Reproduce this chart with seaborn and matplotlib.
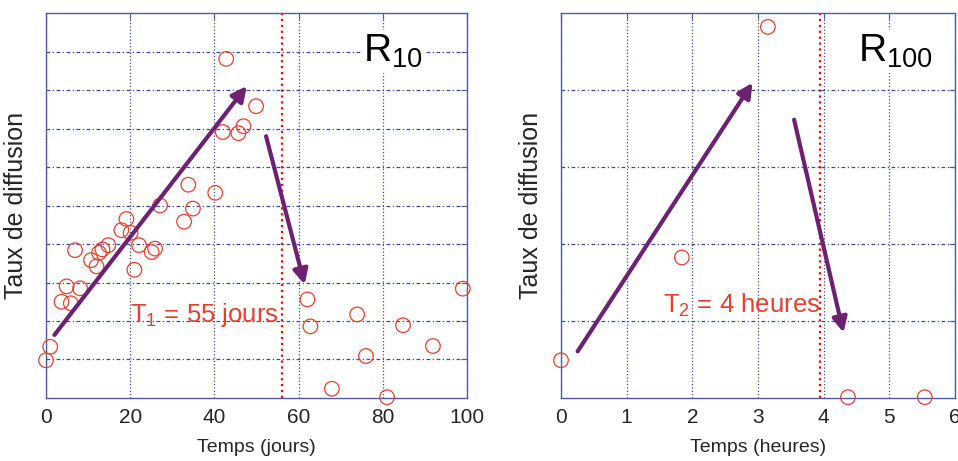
import numpy as np
import pandas as pd
import seaborn as sns
import matplotlib as mpl
import matplotlib.pyplot as plt

# --- data ---
jours = [0, 1.0, 3.7, 4.9, 5.9, 8.1, 6.9, 10.7, 12.0, 12.6, 13.4, 14.8, 17.9, 19.1, 20.1,
         21.0, 22.1, 25.1, 25.9, 27.1, 32.8, 33.8, 34.9, 40.2, 42.0, 42.8, 45.7, 46.9,
         49.9, 62.1, 62.8, 67.9, 73.9, 76.0, 81.0, 84.8, 91.9, 99.0]
taux_r10 = [0.98, 1.33, 2.50, 2.90, 2.46, 2.85, 3.84, 3.58, 3.42, 3.77, 3.86, 3.97, 4.36,
            4.65, 4.29, 3.33, 3.97, 3.79, 3.88, 5.00, 4.58, 5.54, 4.92, 5.33, 6.91, 8.81,
            6.88, 7.06, 7.58, 2.56, 1.86, 0.24, 2.17, 1.09, 0.02, 1.89, 1.35, 2.84]
heures = [0, 1.84, 3.15, 4.37, 5.54]
taux_r100 = [0.98, 3.65, 9.64, 0.02, 0.02]

t1 = 56
t2 = 3.94
xticks_j = [0, 20, 40, 60, 80, 100]
xticks_h = [0, 1, 2, 3, 4, 5, 6]

sns.set_style('white')
plt.rcParams['font.family'] = ['Liberation Sans', 'DejaVu Sans']
mpl.rcParams.update({
    'mathtext.fontset': 'custom',
    'mathtext.rm': 'Liberation Sans',
    'mathtext.default': 'regular',
})

blue = '#4a5cb0'
grid_blue = '#3848a8'
red = '#e8402e'
purple = '#6c2270'

fig = plt.figure(figsize=(9.58, 4.61), dpi=100)
ax1 = fig.add_axes([0.048, 0.1367, 0.4395, 0.835])
ax2 = fig.add_axes([0.5856, 0.1367, 0.4113, 0.835])


def style_axes(ax, xlim, xticks, yticks, xlabel):
    ax.set_xlim(*xlim)
    ax.set_ylim(0, 10)
    ax.set_xticks(xticks)
    ax.set_yticks(yticks)
    ax.set_yticklabels([])
    ax.grid(True, axis='x', linestyle=':', color=grid_blue, linewidth=0.9)
    ax.grid(True, axis='y', linestyle=(0, (3, 2, 1, 2)), color=grid_blue, linewidth=0.9)
    for s in ax.spines.values():
        s.set_color(blue)
        s.set_linewidth(1.0)
        s.set_visible(True)
    ax.tick_params(direction='in', length=4, color=blue, top=True, right=True,
                   labelsize=15, pad=7)
    ax.set_xlabel(xlabel, fontsize=14, labelpad=9)
    ax.set_ylabel('Taux de diffusion', fontsize=18, labelpad=6)
    ax.set_axisbelow(True)


df1 = pd.DataFrame({'t': jours, 'taux': taux_r10})
sns.scatterplot(data=df1, x='t', y='taux', ax=ax1, marker='o', s=110,
                facecolor='none', edgecolor=red, linewidth=0.9, clip_on=False, zorder=3)
style_axes(ax1, (0, 100), xticks_j, range(1, 10), 'Temps (jours)')
ax1.axvline(t1, color='red', linestyle=':', linewidth=1.6)
ax1.annotate('', xy=(48.1, 8.16), xytext=(1.6, 1.58),
             arrowprops=dict(arrowstyle='-|>', color=purple, lw=3, mutation_scale=22))
ax1.annotate('', xy=(61.6, 2.88), xytext=(52.1, 6.87),
             arrowprops=dict(arrowstyle='-|>', color=purple, lw=3, mutation_scale=22))
ax1.text(20, 2.15, 'T$_1$ = 55 jours', color=red, fontsize=18.5, va='center', ha='left')
ax1.text(75.4, 9.0, 'R$_{10}$', color='black', fontsize=28, va='center', ha='left',
         bbox=dict(facecolor='white', edgecolor='none', pad=2), zorder=4)

df2 = pd.DataFrame({'t': heures, 'taux': taux_r100})
sns.scatterplot(data=df2, x='t', y='taux', ax=ax2, marker='o', s=110,
                facecolor='none', edgecolor=red, linewidth=0.9, clip_on=False, zorder=3)
style_axes(ax2, (0, 6), xticks_h, [2, 4, 6, 8], 'Temps (heures)')
ax2.axvline(t2, color='red', linestyle=':', linewidth=1.6)
ax2.annotate('', xy=(2.94, 8.25), xytext=(0.23, 1.15),
             arrowprops=dict(arrowstyle='-|>', color=purple, lw=3, mutation_scale=22))
ax2.annotate('', xy=(4.31, 1.63), xytext=(3.54, 7.30),
             arrowprops=dict(arrowstyle='-|>', color=purple, lw=3, mutation_scale=22))
ax2.text(1.55, 2.41, 'T$_2$ = 4 heures', color=red, fontsize=18.5, va='center', ha='left')
ax2.text(4.53, 9.0, 'R$_{100}$', color='black', fontsize=28, va='center', ha='left',
         bbox=dict(facecolor='white', edgecolor='none', pad=2), zorder=4)

plt.savefig('out.png', dpi=100)
plt.close()
